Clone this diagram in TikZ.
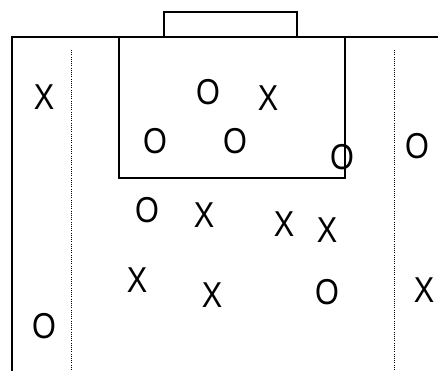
\documentclass[tikz,border=0pt]{standalone}
\usepackage{fontspec}
\setmainfont{Liberation Sans}
\begin{document}
\begin{tikzpicture}[x=1pt,y=-1pt,
  field/.style={line width=1.9pt,black},
  lane/.style={line width=1pt,dash pattern=on 1pt off 1.2pt},
  mk/.style={inner sep=0pt,font=\fontsize{36}{36}\selectfont,xscale=0.85,transform shape}]
\useasboundingbox (0,0) rectangle (438,371);
% outline
\coordinate (tl) at (12,37);
\coordinate (tr) at (438,37);
\coordinate (bl) at (12,371);
\draw[field] (bl) -- (tl) -- (tr);
% goal
\node[field,draw,minimum width=133pt,minimum height=25pt,inner sep=0pt] (goal) at (230.5,24.5) {};
% penalty box
\node[field,draw,minimum width=226pt,minimum height=141pt,inner sep=0pt] (box) at (232,107.5) {};
% dotted lanes
\coordinate (l1) at (71,50); \coordinate (l2) at (71,371);
\coordinate (r1) at (394,50); \coordinate (r2) at (394,371);
\draw[lane] (l1) -- (l2);
\draw[lane] (r1) -- (r2);
% players
\node[mk] (p1) at (44,97) {X};
\node[mk] (p2) at (208,92) {O};
\node[mk] (p3) at (268,98) {X};
\node[mk] (p4) at (155,141) {O};
\node[mk] (p5) at (235,141) {O};
\node[mk] (p6) at (342,157) {O};
\node[mk] (p7) at (417,146) {O};
\node[mk] (p8) at (147,210) {O};
\node[mk] (p9) at (204,215) {X};
\node[mk] (p10) at (284,224) {X};
\node[mk] (p11) at (327,230) {X};
\node[mk] (p12) at (137,280) {X};
\node[mk] (p13) at (212,295) {X};
\node[mk] (p14) at (327,292) {O};
\node[mk] (p15) at (424,290) {X};
\node[mk] (p16) at (44,326) {O};
\end{tikzpicture}
\end{document}
